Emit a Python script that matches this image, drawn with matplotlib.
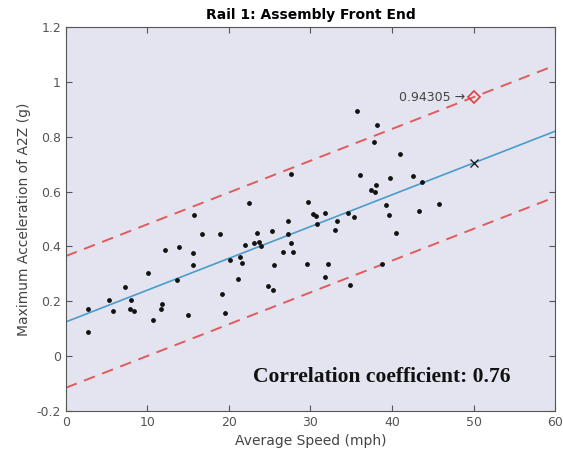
import matplotlib
matplotlib.use("Agg")
import matplotlib.pyplot as plt
import numpy as np

speed = [2.70, 2.70, 5.28, 5.77, 7.24, 7.98, 7.85, 8.34, 10.06, 10.67, 11.66, 11.78,
         12.15, 13.62, 13.87, 14.97, 15.58, 15.58, 15.71, 16.69, 18.90, 19.14, 19.51,
         20.12, 21.10, 21.35, 21.60, 21.96, 22.45, 23.07, 23.44, 23.68, 23.93, 24.79,
         25.40, 25.28, 25.52, 26.63, 27.24, 27.24, 27.61, 27.85, 27.61, 29.57, 29.69,
         30.31, 30.67, 31.78, 30.80, 32.15, 31.78, 33.01, 33.25, 34.60, 35.34, 34.85,
         35.71, 36.07, 37.42, 38.04, 37.91, 38.16, 37.79, 38.77, 39.26, 39.63, 39.75,
         40.49, 40.98, 42.58, 43.31, 43.68, 45.77]
accel = [0.171, 0.087, 0.204, 0.164, 0.252, 0.204, 0.171, 0.164, 0.303, 0.131, 0.171,
         0.190, 0.386, 0.277, 0.397, 0.149, 0.376, 0.332, 0.514, 0.445, 0.445, 0.226,
         0.157, 0.350, 0.281, 0.361, 0.339, 0.405, 0.558, 0.412, 0.448, 0.416, 0.401,
         0.255, 0.241, 0.456, 0.332, 0.379, 0.492, 0.445, 0.412, 0.379, 0.664, 0.335,
         0.561, 0.518, 0.510, 0.521, 0.481, 0.335, 0.288, 0.459, 0.492, 0.521, 0.507,
         0.259, 0.893, 0.660, 0.605, 0.623, 0.598, 0.842, 0.780, 0.335, 0.550, 0.514,
         0.649, 0.448, 0.736, 0.656, 0.529, 0.634, 0.554]

fit_x = [0, 60]
fit_y = [0.125, 0.820]
upper_y = [0.365, 1.060]
lower_y = [-0.115, 0.580]
pred_x = 50
pred_y = 0.705
bound_y = 0.94305
corr = 0.76

fig = plt.figure(figsize=(5.63, 4.65), dpi=100)
ax = fig.add_axes([0.117, 0.116, 0.869, 0.826])
ax.set_facecolor('#e4e4f0')

ax.plot(fit_x, upper_y, '--', color='#e05c5c', lw=1.4, dashes=(6, 4))
ax.plot(fit_x, lower_y, '--', color='#e05c5c', lw=1.4, dashes=(6, 4))
ax.plot(fit_x, fit_y, '-', color='#4a9ccc', lw=1.2)
ax.scatter(speed, accel, s=6, color='#111111', zorder=3)
ax.plot(pred_x, pred_y, 'x', color='#222222', ms=6, mew=1.0)
ax.plot(pred_x, bound_y, 'D', mfc='none', mec='#e04040', ms=6, mew=1.2)
ax.text(pred_x - 1.0, bound_y, f'{bound_y:.5f} \u2192', ha='right', va='center',
        fontsize=9, color='#444444')

ax.text(38.7, -0.077, f'Correlation coefficient: {corr}', fontsize=15.5, fontweight='bold',
        family='Liberation Serif', ha='center', va='center', color='#111111')

ax.set_xlim(0, 60)
ax.set_ylim(-0.2, 1.2)
ax.set_xticks(np.arange(0, 61, 10))
ax.set_yticks(np.round(np.arange(-0.2, 1.21, 0.2), 1))
ax.set_yticklabels(['-0.2', '0', '0.2', '0.4', '0.6', '0.8', '1', '1.2'])
ax.tick_params(direction='in', top=True, right=True, labelsize=9, colors='#555555',
               length=4)
for s in ax.spines.values():
    s.set_color('#555555')
ax.set_xlabel('Average Speed (mph)', fontsize=10, color='#444444')
ax.set_ylabel('Maximum Acceleration of A2Z (g)', fontsize=10, color='#444444')
ax.set_title('Rail 1: Assembly Front End', fontsize=10, fontweight='bold', pad=6)

fig.savefig('out.png', dpi=100)
